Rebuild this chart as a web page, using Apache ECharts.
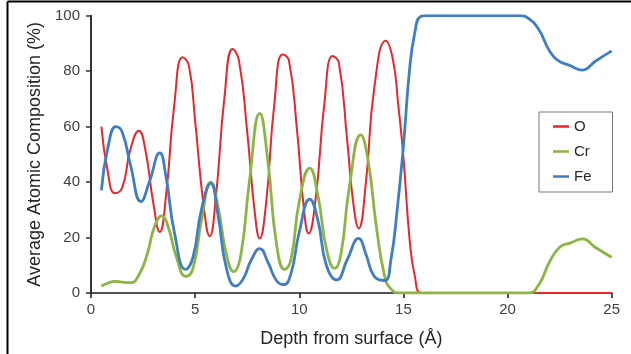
<!DOCTYPE html>
<html>
<head>
<meta charset="utf-8">
<script src="https://cdn.jsdelivr.net/npm/echarts@6/dist/echarts.min.js"></script>
<style>html,body{margin:0;padding:0;background:#fff;}#c{width:631px;height:354px;}</style>
</head>
<body>
<div id="c"></div>
<script>
const seriesNames = ['O', 'Cr', 'Fe'];
const xTicks = [0, 5, 10, 15, 20, 25];
const yTicks = [0, 20, 40, 60, 80, 100];

const oData = [[0.5,60],[0.8,44],[1.15,36],[1.5,38],[1.9,52],[2.3,58.5],[2.6,52],[3.0,32],[3.3,22],[3.6,35],[4.0,68],[4.4,85],[4.7,82],[5.0,62],[5.4,32],[5.7,20.5],[6.0,35],[6.4,70],[6.8,88],[7.1,84],[7.5,58],[7.85,30],[8.1,19.7],[8.4,32],[8.8,68],[9.2,86],[9.5,84],[9.9,58],[10.2,32],[10.45,21.5],[10.8,35],[11.2,68],[11.6,85.5],[11.9,83],[12.3,55],[12.6,32],[12.85,23.3],[13.2,40],[13.6,74],[14.15,91],[14.5,84],[14.75,68],[15.0,49],[15.3,19],[15.55,6],[15.85,0],[16.5,0],[25,0]];

const crData = [[0.5,2.5],[0.8,3.5],[1.15,4.2],[1.5,3.9],[1.9,3.7],[2.3,6.5],[2.7,14],[3.05,24],[3.4,27.8],[3.7,24],[4.1,13],[4.55,6],[4.9,9],[5.3,26],[5.75,40],[6.1,31],[6.5,14],[6.85,7.7],[7.2,14],[7.6,40],[8.1,64.8],[8.5,47],[8.9,18],[9.3,8.5],[9.6,12],[10.0,33],[10.5,45],[10.9,35],[11.3,16],[11.7,8.9],[12.0,14],[12.4,38],[12.95,57],[13.3,48],[13.7,24],[14.1,6],[14.4,1.5],[14.8,0],[16,0],[21,0],[21.5,3],[22,11],[22.5,16.5],[23,18],[23.6,19.5],[24.2,16.5],[25,12.9]];

const feData = [[0.5,37],[0.8,52],[1.2,60],[1.5,58],[1.9,46],[2.4,33],[2.8,40],[3.3,50.5],[3.6,42],[4.0,22],[4.55,8.5],[4.9,13],[5.3,30],[5.75,39.5],[6.1,28],[6.5,9],[6.95,2.5],[7.3,5],[7.7,12],[8.1,16],[8.5,11],[8.9,4.5],[9.25,3],[9.6,7],[10.0,22],[10.5,33.8],[10.9,26],[11.3,10],[11.8,4.7],[12.3,12],[12.85,19.7],[13.2,14],[13.6,6],[14.1,4.5],[14.4,12],[14.7,30],[15.0,53],[15.3,81],[15.55,94],[15.8,99.6],[16.1,100],[20.6,100],[21.0,99],[21.5,95],[22.0,87.5],[22.4,84],[23.0,82],[23.6,80.4],[24.2,83.5],[25,87.3]];

const colors = ['#e8262b', '#8db543', '#3f7fc1'];
const widths = [2, 2.8, 2.8];
const allData = [oData, crData, feData];

const chart = echarts.init(document.getElementById('c'), null, {renderer: 'canvas'});
const font = 'Liberation Sans, Arial, sans-serif';
chart.setOption({
  animation: false,
  backgroundColor: '#fff',
  grid: {left: 91, right: 19.3, top: 15.7, bottom: 61, containLabel: false},
  xAxis: {
    type: 'value', min: xTicks[0], max: xTicks[xTicks.length-1], interval: 5,
    name: 'Depth from surface (Å)', nameLocation: 'middle', nameGap: 37,
    nameTextStyle: {fontSize: 18, color: '#262626', fontFamily: font},
    axisLine: {show: true, lineStyle: {color: '#1a1a1a', width: 1.5}},
    axisTick: {show: true, length: 5, lineStyle: {color: '#1a1a1a', width: 1.5}},
    axisLabel: {fontSize: 15, color: '#404040', fontFamily: font, margin: 9},
    splitLine: {show: false}
  },
  yAxis: {
    type: 'value', min: yTicks[0], max: yTicks[yTicks.length-1], interval: 20,
    name: 'Average Atomic Composition (%)', nameLocation: 'middle', nameGap: 40,
    nameTextStyle: {fontSize: 18, color: '#262626', fontFamily: font},
    axisLine: {show: true, lineStyle: {color: '#333', width: 2}},
    axisTick: {show: true, length: 5, lineStyle: {color: '#333', width: 1.5}},
    axisLabel: {fontSize: 15, color: '#404040', fontFamily: font, margin: 11},
    splitLine: {show: false}
  },
  legend: {
    orient: 'vertical', left: 539, top: 112, icon: 'rect',
    borderColor: '#777', borderWidth: 1, backgroundColor: '#fff',
    padding: [7, 21, 8, 14], itemGap: 10, itemWidth: 16, itemHeight: 2.5,
    textStyle: {fontSize: 15, color: '#262626', fontFamily: font},
    data: seriesNames
  },
  graphic: [
    {type: 'line', shape: {x1: 7.5, y1: 1.5, x2: 631, y2: 1.5}, style: {stroke: '#000', lineWidth: 2}, silent: true},
    {type: 'line', shape: {x1: 7.5, y1: 1.5, x2: 7.5, y2: 354}, style: {stroke: '#000', lineWidth: 2}, silent: true}
  ],
  series: seriesNames.map((n, i) => ({
    name: n, type: 'line', data: allData[i], smooth: 0.5,
    symbol: 'none', showSymbol: false,
    lineStyle: {color: colors[i], width: widths[i]},
    itemStyle: {color: colors[i]},
    z: 2 + i
  }))
});
</script>
</body>
</html>
